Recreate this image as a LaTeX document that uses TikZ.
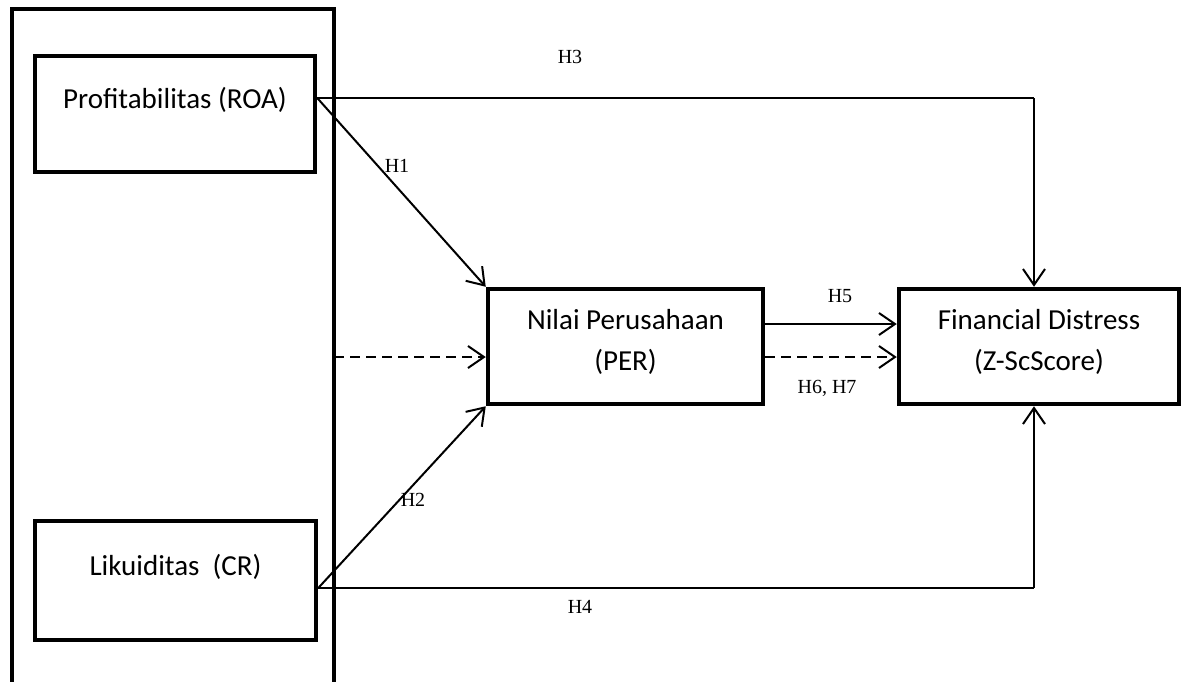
\documentclass[tikz,border=0pt]{standalone}
\usepackage{fontspec}
\setmainfont{Carlito}
\newfontfamily\tnr{Liberation Serif}
\usetikzlibrary{arrows.meta,calc}
\tikzset{
  box/.style={draw=black,line width=4.5pt,rectangle,inner sep=0pt,fill=white},
  boxtext/.style={align=center,inner sep=0pt,font=\fontsize{29}{41}\selectfont},
  hlabel/.style={inner sep=0pt,font=\tnr\fontsize{20}{24}\selectfont},
  conn/.style={line width=2pt,-{Straight Barb[length=16pt,width=22pt,line width=2pt]}},
  thinline/.style={line width=1.5pt},
  dashconn/.style={conn,dash pattern=on 10pt off 6pt},
  frame/.style={line width=4pt}
}
\begin{document}
\begin{tikzpicture}[x=1pt,y=-1pt]
\useasboundingbox (0,0) rectangle (1187,681);
% outer frame (open at the bottom)
\draw[frame] (12,700) -- (12,9) -- (334,9) -- (334,700);
% boxes
\node[box,minimum width=280pt,minimum height=116pt] (roa) at (175,114) {};
\node[box,minimum width=281pt,minimum height=119pt] (cr) at (175.5,580.5) {};
\node[box,minimum width=275pt,minimum height=115pt] (per) at (625.5,346.5) {};
\node[box,minimum width=280pt,minimum height=115pt] (fd) at (1039,346.5) {};
% texts
\node[boxtext] (roat) at ($(roa.center)+(0,-14)$) {Profitabilitas (ROA)};
\node[boxtext] (crt) at ($(cr.center)+(0,-14)$) {Likuiditas\ \ (CR)};
\node[boxtext] (pert) at ($(per.center)+(0,-5)$) {Nilai Perusahaan\\(PER)};
\node[boxtext] (fdt) at ($(fd.center)+(0,-5)$) {Financial Distress\\(Z-ScScore)};
% connector points
\coordinate (roaout) at ($(roa.east)+(0,-16)$);
\coordinate (crout) at ($(cr.east)+(0,7.5)$);
\coordinate (fdtop) at ($(fd.north)+(-5,0)$);
\coordinate (fdbot) at ($(fd.south)+(-5,0)$);
\coordinate (dashstart) at (334,357);
% H3
\draw[thinline] (roaout) -- (roaout -| fdtop);
\draw[conn] (roaout -| fdtop) -- (fdtop);
% H4
\draw[thinline] (crout) -- (crout -| fdbot);
\draw[conn] (crout -| fdbot) -- (fdbot);
% H1, H2
\draw[conn] (roaout) -- (per.north west);
\draw[conn] (crout) -- (per.south west);
% dashed into PER
\draw[dashconn] (dashstart) -- (dashstart -| per.west);
% H5, H6 H7
\draw[conn] ($(per.east)+(0,-22.5)$) -- ($(fd.west)+(0,-22.5)$);
\draw[dashconn] ($(per.east)+(0,10.5)$) -- ($(fd.west)+(0,10.5)$);
% labels
\node[hlabel] (h3) at (570,57) {H3};
\node[hlabel] (h1) at (397,166) {H1};
\node[hlabel] (h2) at (413,500) {H2};
\node[hlabel] (h4) at (580,607) {H4};
\node[hlabel] (h5) at (840,296) {H5};
\node[hlabel] (h67) at (827,388) {H6, H7};
\end{tikzpicture}
\end{document}
